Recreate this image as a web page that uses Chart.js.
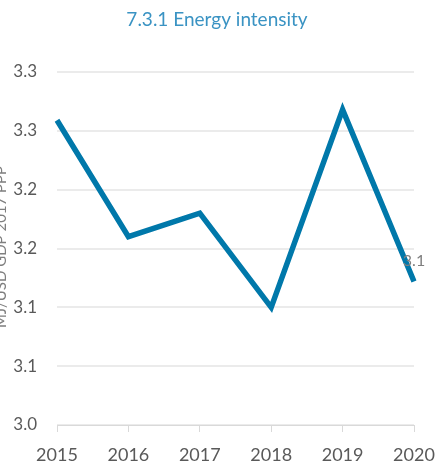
<!DOCTYPE html>
<html lang="en">
<head>
    <meta charset="UTF-8">
    <title>7.3.1 Energy intensity</title>
    <script src="https://cdn.jsdelivr.net/npm/chart.js"></script>
    <style>
        html, body { margin: 0; padding: 0; background: #fff; }
        #wrap { width: 440px; height: 464px; }
    </style>
</head>
<body>
    <div id="wrap"><canvas id="grafico" width="440" height="464"></canvas></div>

    <script>
        // datos
        const years = ['2015', '2016', '2017', '2018', '2019', '2020'];
        const intensity = [3.259, 3.160, 3.180, 3.100, 3.268, 3.122];
        const yTicks = [3.00, 3.05, 3.10, 3.15, 3.20, 3.25, 3.30];

        const fontFam = 'Lato, "Open Sans", sans-serif';
        const fmt = v => (Math.round(v * 10 + 1e-6) / 10).toFixed(1);

        // titulo, etiqueta del eje y y valor del ultimo punto
        const extras = {
            id: 'extras',
            afterDraw(chart) {
                const ctx = chart.ctx;
                ctx.save();
                ctx.fillStyle = '#3a93c3';
                ctx.font = '19px ' + fontFam;
                ctx.textAlign = 'center';
                ctx.textBaseline = 'middle';
                ctx.fillText('7.3.1 Energy intensity', 217, 20);

                ctx.fillStyle = '#7f7f7f';
                ctx.font = '15px ' + fontFam;
                ctx.translate(1, 247);
                ctx.rotate(-Math.PI / 2);
                ctx.fillText('MJ/USD GDP 2017 PPP', 0, 0);
                ctx.restore();

                const meta = chart.getDatasetMeta(0);
                const last = meta.data[meta.data.length - 1];
                ctx.save();
                ctx.fillStyle = '#7f7f7f';
                ctx.font = '16px ' + fontFam;
                ctx.textAlign = 'center';
                ctx.textBaseline = 'middle';
                ctx.fillText(fmt(intensity[intensity.length - 1]), last.x, last.y - 21);
                ctx.restore();
            }
        };

        new Chart(document.getElementById('grafico').getContext('2d'), {
            type: 'line',
            data: {
                labels: years,
                datasets: [{
                    label: 'Energy intensity',
                    data: intensity,
                    borderColor: '#0078aa',
                    borderWidth: 5.5,
                    pointRadius: 0,
                    tension: 0,
                    fill: false
                }]
            },
            options: {
                responsive: false,
                animation: false,
                layout: { padding: { top: 72, right: 26, left: 0, bottom: 0 } },
                plugins: { legend: { display: false }, title: { display: false }, tooltip: { enabled: false } },
                scales: {
                    x: {
                        offset: false,
                        grid: { drawOnChartArea: false, drawTicks: true, tickLength: 7, color: '#d9d9d9' },
                        border: { color: '#d9d9d9', width: 1 },
                        ticks: { color: '#595959', font: { family: fontFam, size: 18 }, padding: 12, maxRotation: 0, autoSkip: false },
                        afterFit(scale) {
                            scale.height = 39;
                            scale.paddingRight = 0;
                            scale.paddingLeft = 0;
                        }
                    },
                    y: {
                        min: 3.0,
                        max: 3.3,
                        afterBuildTicks(scale) { scale.ticks = yTicks.map(v => ({ value: v })); },
                        grid: { color: '#ebebeb', lineWidth: 2, drawTicks: false },
                        border: { display: false },
                        ticks: {
                            color: '#595959',
                            font: { family: fontFam, size: 17 },
                            padding: 20,
                            callback: v => fmt(v)
                        },
                        afterFit(scale) { scale.width = 57; }
                    }
                }
            },
            plugins: [extras]
        });
    </script>
</body>
</html>
